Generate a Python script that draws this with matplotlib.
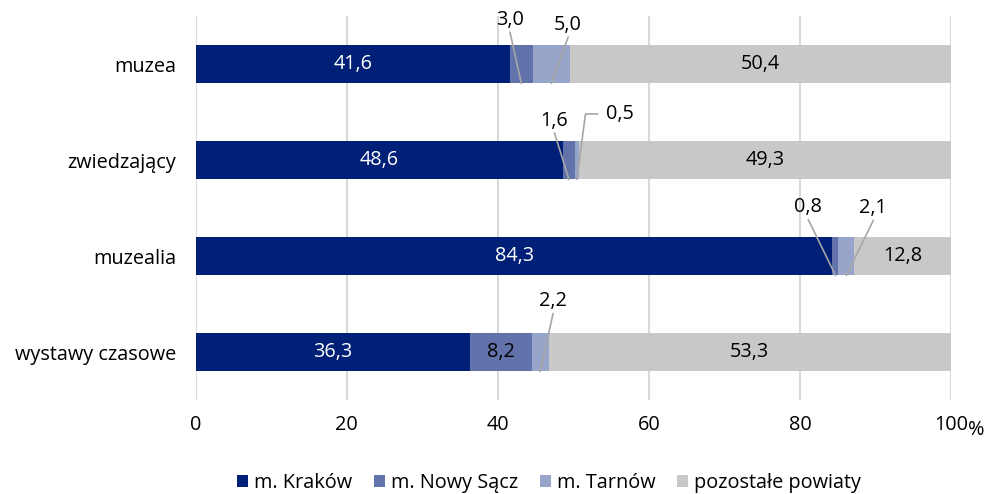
import matplotlib
matplotlib.use("Agg")
import matplotlib.pyplot as plt
import numpy as np

plt.rcParams['font.family'] = ['Open Sans', 'DejaVu Sans']

categories = ["muzea", "zwiedzający", "muzealia", "wystawy czasowe"]
series_names = ["m. Kraków", "m. Nowy Sącz", "m. Tarnów", "pozostałe powiaty"]
krakow = [41.6, 48.6, 84.3, 36.3]
nowy_sacz = [3.0, 1.6, 0.8, 8.2]
tarnow = [5.0, 0.5, 2.1, 2.2]
pozostale = [50.4, 49.3, 12.8, 53.3]
xticks = [0, 20, 40, 60, 80, 100]

colors = ["#001f77", "#6272ab", "#98a5cb", "#c7c8c7"]
label_colors = ["white", "black", "black", "black"]
fs = 14.3

# small values get a label outside with a leader line: (row, series, text x, text y)
outside = [
    (0, 1, 41.6, -0.46),
    (0, 2, 49.3, -0.41),
    (1, 1, 47.5, 0.59),
    (1, 2, 56.2, 0.52),
    (2, 1, 81.1, 1.49),
    (2, 2, 89.7, 1.50),
    (3, 2, 47.3, 2.47),
]

def fmt(v):
    return ("%.1f" % v).replace(".", ",")

fig = plt.figure(figsize=(9.89, 4.94), dpi=100)
ax = fig.add_axes([0.198, 0.19, 0.7636, 0.7776])

data = [krakow, nowy_sacz, tarnow, pozostale]
y = np.arange(len(categories))
left = np.zeros(len(categories))
bh = 0.4
for s, vals in enumerate(data):
    ax.barh(y, vals, left=left, height=bh, color=colors[s], label=series_names[s], zorder=3)
    for i, v in enumerate(vals):
        if v > 6:
            ax.text(left[i] + v / 2, y[i], fmt(v), ha="center", va="center",
                    color=label_colors[s], fontsize=fs, zorder=4)
    left = left + np.array(vals)

for row, s, tx, ty in outside:
    start = sum(data[k][row] for k in range(s))
    cx = start + data[s][row] / 2
    by = y[row] + bh / 2
    ax.text(tx, ty, fmt(data[s][row]), ha="center", va="center", fontsize=fs, zorder=4)
    if row == 1 and s == 2:
        ax.plot([tx - 3.0, tx - 4.6, cx], [ty, ty, by], color="#a6a6a6", lw=1.2, zorder=5)
    else:
        ax.plot([tx, cx], [ty + 0.13, by], color="#a6a6a6", lw=1.2, zorder=5)

ax.set_xlim(0, 100)
ax.set_ylim(len(categories) - 0.5, -0.5)
ax.set_yticks(y)
ax.set_yticklabels(categories, fontsize=fs)
ax.set_xticks(xticks)
ax.set_xticklabels([str(t) for t in xticks], fontsize=fs)
ax.tick_params(axis="both", length=0)
ax.tick_params(axis="x", pad=11)
ax.tick_params(axis="y", pad=14)
ax.grid(axis="x", color="#d9d9d9", lw=1.5, zorder=0)
for sp in ax.spines.values():
    sp.set_visible(False)
ax.text(1.022, -0.078, "%", transform=ax.transAxes, fontsize=fs, ha="left", va="center")

fig.legend(loc="lower center", bbox_to_anchor=(0.555, -0.035), ncol=4, frameon=False,
           fontsize=fs, handlelength=0.55, handleheight=0.55, handletextpad=0.3,
           columnspacing=1.1)

fig.savefig("out.png", dpi=100)
